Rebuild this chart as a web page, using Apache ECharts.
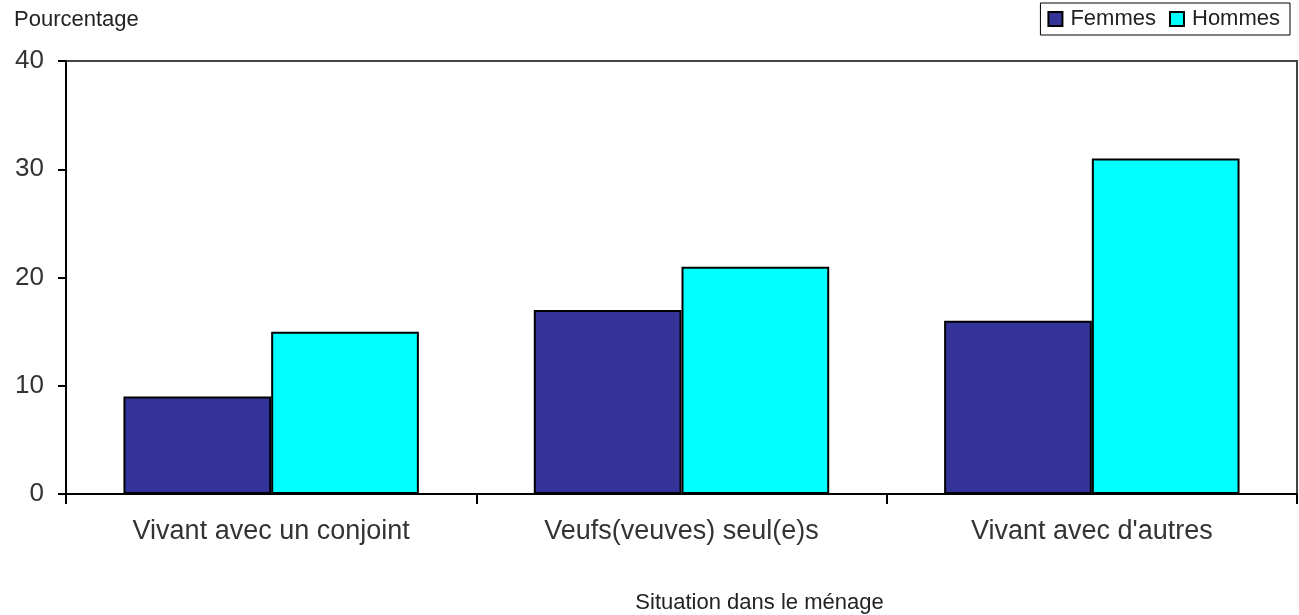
<!DOCTYPE html>
<html><head><meta charset="utf-8">
<script src="https://cdn.jsdelivr.net/npm/echarts@6/dist/echarts.min.js"></script>
<style>html,body{margin:0;padding:0;background:#fff}#c{width:1299px;height:615px}</style>
</head><body><div id="c"></div>
<script>
const categories = ["Vivant avec un conjoint", "Veufs(veuves) seul(e)s", "Vivant avec d'autres"];
const femmes = [9, 17, 16];
const hommes = [15, 21, 31];
const seriesNames = ["Femmes", "Hommes"];
const yTicks = [0, 10, 20, 30, 40];

const chart = echarts.init(document.getElementById('c'));
const font = 'Liberation Sans, Arial, sans-serif';
chart.setOption({
  animation: false,
  backgroundColor: '#fff',
  textStyle: {fontFamily: font},
  grid: {left: 66, right: 2, top: 61, bottom: 121, show: true, borderColor: '#444', borderWidth: 2,
         backgroundColor: 'transparent', containLabel: false, outerBoundsMode: 'none'},
  legend: {
    data: seriesNames, right: 9, top: 3, itemWidth: 14, itemHeight: 14, itemGap: 13,
    icon: 'rect', borderColor: '#000', borderWidth: 1, padding: [5, 10, 5, 7],
    itemStyle: {borderColor: '#000', borderWidth: 2},
    textStyle: {fontSize: 22, color: '#222', fontFamily: font, padding: [0, 0, 0, 3]}
  },
  graphic: [{type: 'text', left: 14, top: 9, style: {text: 'Pourcentage', fontSize: 22, fill: '#222', fontFamily: font}}],
  xAxis: {
    type: 'category', data: categories,
    name: 'Situation dans le ménage', nameLocation: 'middle', nameGap: 98,
    nameTextStyle: {fontSize: 22, color: '#222', fontFamily: font, padding: [0, 0, 0, 156]},
    axisLine: {lineStyle: {color: '#000', width: 2}},
    axisTick: {show: true, length: 10, lineStyle: {color: '#000', width: 2}},
    axisLabel: {fontSize: 27, color: '#333', margin: 24, fontFamily: font}
  },
  yAxis: {
    type: 'value', min: yTicks[0], max: yTicks[yTicks.length - 1], interval: 10,
    axisLine: {show: true, lineStyle: {color: '#000', width: 2}},
    axisTick: {show: true, length: 8, lineStyle: {color: '#000', width: 2}},
    axisLabel: {fontSize: 26, color: '#333', margin: 22, fontFamily: font},
    splitLine: {show: false}
  },
  series: [
    {name: seriesNames[0], type: 'bar', data: femmes, barGap: '0%', barCategoryGap: '28%',
     itemStyle: {color: '#333399', borderColor: '#000', borderWidth: 2}},
    {name: seriesNames[1], type: 'bar', data: hommes, barGap: '0%', barCategoryGap: '28%',
     itemStyle: {color: '#00FFFF', borderColor: '#000', borderWidth: 2}}
  ]
});
</script></body></html>
